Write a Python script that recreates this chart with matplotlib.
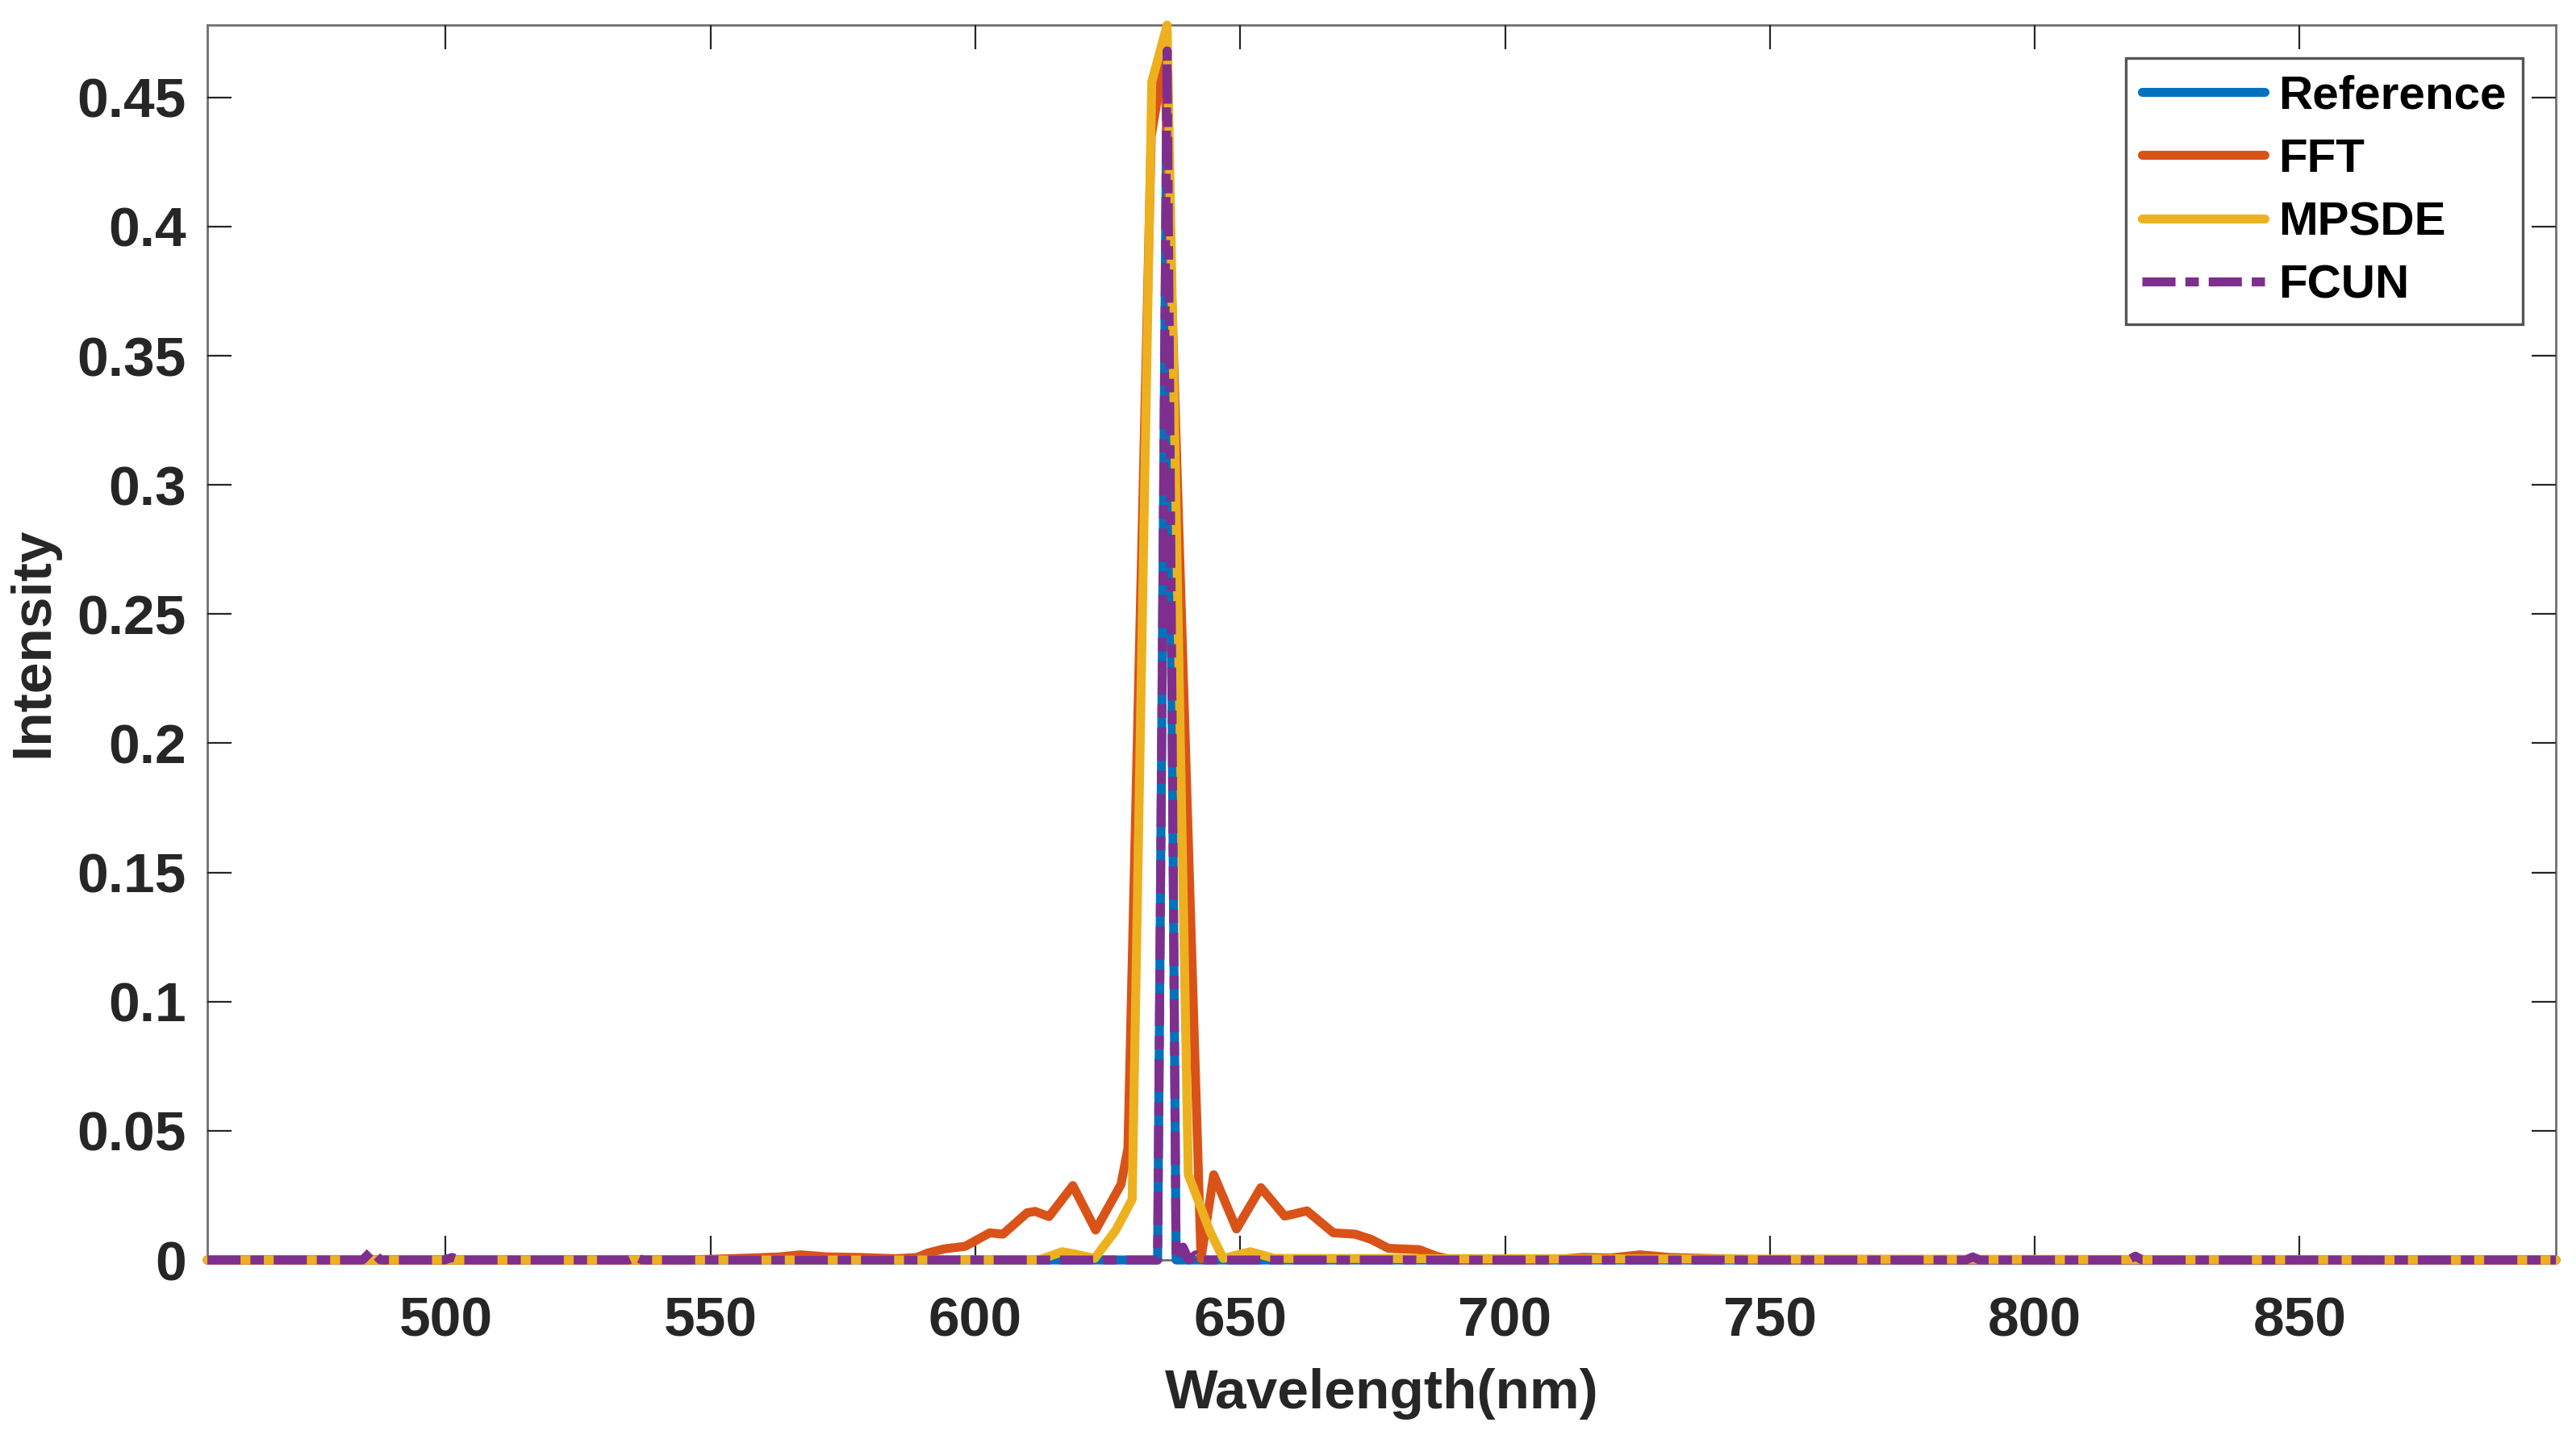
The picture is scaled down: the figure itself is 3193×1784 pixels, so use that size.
import matplotlib
matplotlib.use("Agg")
import matplotlib.pyplot as plt
import numpy as np

# wavelength (nm) / intensity knots
wl_ref = [455, 634.4, 636.2, 637.9, 898.4]
int_ref = [0, 0, 0.469, 0, 0]

wl_fft = [455, 545, 552, 558, 563, 567, 572, 578, 585, 589, 591.0, 594.1, 598.1,
          602.7, 605.2, 609.8, 611.3, 613.9, 618.4, 622.7, 626.5, 627.5, 628.8,
          633.2, 635.7, 642.6, 645.0, 649.3, 653.9, 658.4, 662.6, 667.6, 671.7,
          674.7, 678.0, 683.8, 687.0, 690.0, 708, 714.8, 720, 725.5, 731, 740,
          748, 898.4]
int_fft = [0, 0, 0.0004, 0.0008, 0.0012, 0.002, 0.0012, 0.001, 0.0005, 0.001,
           0.0027, 0.0043, 0.0053, 0.0105, 0.010, 0.0183, 0.0188, 0.0168, 0.0288,
           0.0116, 0.0256, 0.0293, 0.0433, 0.435, 0.466, 0.0005, 0.033, 0.012,
           0.028, 0.017, 0.019, 0.0105, 0.010, 0.008, 0.0045, 0.004, 0.0015, 0,
           0, 0.001, 0.0008, 0.002, 0.001, 0.0005, 0, 0]

wl_mpsde = [455, 612, 616.4, 619.5, 622.5, 626.5, 629.6, 633.3, 636.2, 640.2,
            644.3, 646.8, 649.5, 651.9, 656.5, 898.4]
int_mpsde = [0, 0, 0.0032, 0.002, 0.0006, 0.0115, 0.0235, 0.456, 0.478, 0.033,
             0.011, 0.0006, 0.002, 0.0032, 0.0006, 0]

wl_fcun = [455, 484.3, 486.0, 487.7, 499.8, 501.2, 502.6, 534.5, 535.8, 537.1,
           634.4, 636.2, 637.9, 639.2, 640.3, 641.6, 642.8, 787, 788.3, 789.6,
           817.7, 819, 820.3, 898.4]
int_fcun = [0, 0, 0.0035, 0, 0, 0.001, 0, 0, 0.0012, 0, 0, 0.468, 0, 0.005, 0,
            0.002, 0, 0, 0.0012, 0, 0, 0.0015, 0, 0]

xticks = [500, 550, 600, 650, 700, 750, 800, 850]
yticks = [0, 0.05, 0.1, 0.15, 0.2, 0.25, 0.3, 0.35, 0.4, 0.45]
ytick_labels = ["0", "0.05", "0.1", "0.15", "0.2", "0.25", "0.3", "0.35", "0.4", "0.45"]

plt.rcParams['font.family'] = ['Liberation Sans', 'DejaVu Sans']
plt.rcParams['font.weight'] = 'bold'

fig = plt.figure(figsize=(15.965, 8.92), dpi=200)
ax = fig.add_axes([0.0805, 0.1244, 0.9117, 0.8582])

lw = 4.0
common = dict(lw=lw, clip_on=False, solid_joinstyle='round', solid_capstyle='round')
ax.plot(wl_ref, int_ref, color='#0072BD', label='Reference', **common)
ax.plot(wl_fft, int_fft, color='#D95319', label='FFT', **common)
ax.plot(wl_mpsde, int_mpsde, color='#EDB120', label='MPSDE', **common)
ax.plot(wl_fcun, int_fcun, color='#7E2F8E', label='FCUN',
        dashes=(3.7, 1.1, 1.5, 1.1), dash_capstyle='butt', dash_joinstyle='round',
        lw=lw, clip_on=False)

ax.set_xlim(455, 898.4)
ax.set_ylim(0, max(int_mpsde))
ax.set_xticks(xticks)
ax.set_yticks(yticks)
ax.set_yticklabels(ytick_labels)

ax.tick_params(axis='both', direction='in', length=10.8, width=0.8,
               color='#262626', labelcolor='#262626', labelsize=25,
               top=True, right=True)
ax.tick_params(axis='x', pad=16)
ax.tick_params(axis='y', pad=9.5)
for s in ax.spines.values():
    s.set_color('#707070')
    s.set_linewidth(1.0)
    s.set_zorder(0.5)

ax.set_xlabel('Wavelength(nm)', fontsize=25, fontweight='bold', color='#262626', labelpad=9)
ax.set_ylabel('Intensity', fontsize=25, fontweight='bold', color='#262626', labelpad=8)

leg = ax.legend(loc='upper right', fontsize=21, frameon=True, fancybox=False,
                framealpha=1, edgecolor='#555555', borderpad=0.35,
                labelspacing=0.42, handlelength=2.6, handletextpad=0.3,
                borderaxespad=0.7)
leg.get_frame().set_linewidth(1.2)
for t in leg.get_texts():
    t.set_fontweight('bold')
    t.set_color('black')

fig.savefig('out.png', dpi=200, facecolor='white')
